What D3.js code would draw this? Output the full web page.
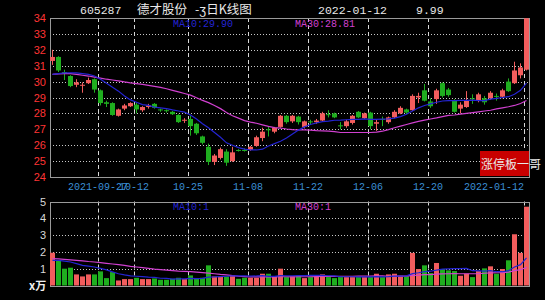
<!DOCTYPE html>
<html><head><meta charset="utf-8">
<script src="https://cdn.jsdelivr.net/npm/d3@7/dist/d3.min.js"></script>
<style>html,body{margin:0;padding:0;background:#000;}svg{display:block;}</style>
</head><body>
<svg id="c" width="545" height="300"></svg>
<script>
const dates = ["2021-09-13","2021-09-14","2021-09-15","2021-09-16","2021-09-17","2021-09-22","2021-09-23","2021-09-24","2021-09-27","2021-09-28",
"2021-09-29","2021-09-30","2021-10-08","2021-10-11","2021-10-12","2021-10-13","2021-10-14","2021-10-15","2021-10-18","2021-10-19",
"2021-10-20","2021-10-21","2021-10-22","2021-10-25","2021-10-26","2021-10-27","2021-10-28","2021-10-29","2021-11-01","2021-11-02",
"2021-11-03","2021-11-04","2021-11-05","2021-11-08","2021-11-09","2021-11-10","2021-11-11","2021-11-12","2021-11-15","2021-11-16",
"2021-11-17","2021-11-18","2021-11-19","2021-11-22","2021-11-23","2021-11-24","2021-11-25","2021-11-26","2021-11-29","2021-11-30",
"2021-12-01","2021-12-02","2021-12-03","2021-12-06","2021-12-07","2021-12-08","2021-12-09","2021-12-10","2021-12-13","2021-12-14",
"2021-12-15","2021-12-16","2021-12-17","2021-12-20","2021-12-21","2021-12-22","2021-12-23","2021-12-24","2021-12-27","2021-12-28",
"2021-12-29","2021-12-30","2021-12-31","2022-01-04","2022-01-05","2022-01-06","2022-01-07","2022-01-10","2022-01-11","2022-01-12"];

const open = [31.3,31.55,30.6,30.35,29.8,29.75,29.9,30.15,29.45,28.7,
28.65,27.85,28.3,28.45,28.55,28.2,28.4,28.6,28.25,28.2,
28.1,27.9,27.55,27.65,27.35,26.55,25.9,24.95,25.2,25.6,
25.0,25.7,25.7,25.7,25.95,26.45,27.0,26.85,27.15,27.85,
27.5,27.8,27.15,27.5,27.45,27.55,27.95,28.0,27.25,27.2,
27.4,28.1,27.7,28.05,27.35,27.65,27.45,27.75,28.0,28.25,
28.2,29.0,29.45,28.75,28.9,29.9,29.5,28.8,28.3,28.4,
28.95,28.8,28.95,28.95,29.1,29.05,30.0,29.9,30.4,30.75];
const high = [32.0,31.6,30.75,30.4,30.15,29.95,30.25,30.2,29.5,28.8,
28.7,28.3,28.6,28.7,28.65,28.45,28.6,28.65,28.3,28.25,
28.15,27.95,27.7,27.85,27.4,26.6,26.1,25.45,25.85,25.75,
25.9,25.75,25.8,25.95,26.6,27.1,27.15,27.15,27.9,27.9,
27.9,27.85,27.55,27.6,27.65,28.1,28.2,28.05,27.45,27.6,
27.9,28.15,28.05,28.1,27.6,27.8,27.8,28.2,28.45,28.3,
29.2,29.3,29.85,28.95,29.55,29.95,29.6,28.9,28.7,29.4,
29.2,29.3,29.1,29.4,29.25,29.55,30.2,31.25,31.15,33.98];
const low = [31.05,30.6,30.1,29.65,29.65,29.3,29.85,29.3,28.5,28.4,
27.85,27.8,28.2,28.4,28.0,28.1,28.3,28.3,28.1,28.05,
27.9,27.4,27.4,26.6,26.65,26.05,24.75,24.75,25.1,24.7,
24.95,25.6,25.6,25.65,25.9,26.25,26.55,26.75,27.1,27.35,
27.4,27.3,27.05,27.3,27.35,27.5,27.75,27.7,27.0,27.1,
27.3,27.7,27.65,27.0,26.9,27.2,27.35,27.7,27.95,27.95,
28.15,28.65,28.75,28.35,28.6,29.0,29.05,28.05,28.0,28.35,
28.6,28.7,28.55,28.85,28.8,28.95,29.35,29.85,30.2,30.7];
const close = [31.55,30.7,30.5,29.72,29.95,29.8,30.1,29.5,28.65,28.6,
27.9,28.25,28.5,28.65,28.25,28.4,28.5,28.35,28.2,28.15,
27.95,27.45,27.6,27.2,26.75,26.15,24.95,25.35,25.75,24.9,
25.55,25.65,25.65,25.9,26.5,26.85,26.95,27.1,27.85,27.45,
27.85,27.45,27.5,27.45,27.55,28.0,27.9,27.75,27.2,27.5,
27.85,27.75,28.0,27.2,27.45,27.6,27.75,28.1,28.35,28.05,
29.1,29.1,28.8,28.45,29.45,29.1,29.15,28.1,28.55,28.8,
28.9,29.2,28.7,29.3,29.05,29.45,29.4,30.7,30.89,33.98];
const volume = [1.95,1.46,1.0,1.06,0.66,0.54,0.66,0.66,0.84,0.44,
0.8,0.3,0.38,0.38,0.46,0.38,0.38,0.42,0.34,0.34,
0.4,0.46,0.38,0.6,0.4,0.46,1.2,0.54,0.54,0.54,
0.6,0.4,0.46,0.46,0.46,0.7,0.7,0.54,1.0,0.5,
0.54,0.58,0.44,0.5,0.54,0.66,0.5,0.44,0.5,0.5,
0.5,0.5,0.5,0.5,0.7,0.5,0.66,0.7,0.58,0.54,
1.94,0.98,1.2,0.74,1.34,0.98,0.9,0.86,0.58,0.7,
0.5,0.86,1.02,1.14,0.7,0.98,1.5,3.05,1.94,4.69];
const ma10 = [30.45,30.5,30.55,30.55,30.55,30.5,30.45,30.35,30.15,29.9,
29.65,29.4,29.1,28.85,28.7,28.55,28.5,28.4,28.35,28.3,
28.22,28.15,28.08,27.9,27.65,27.35,27.1,26.8,26.5,26.15,
26.0,25.85,25.75,25.7,25.7,25.75,25.95,26.1,26.25,26.45,
26.7,26.95,27.15,27.3,27.4,27.48,27.52,27.57,27.58,27.6,
27.62,27.63,27.65,27.63,27.62,27.64,27.66,27.7,27.8,27.95,
28.15,28.35,28.5,28.6,28.7,28.78,28.8,28.8,28.82,28.82,
28.83,28.8,28.8,28.9,28.95,29.0,29.05,29.2,29.45,29.9];
const ma30 = [30.45,30.48,30.5,30.5,30.45,30.4,30.35,30.28,30.22,30.15,
30.1,30.05,29.98,29.92,29.87,29.82,29.76,29.7,29.64,29.55,
29.45,29.35,29.25,29.15,28.98,28.82,28.68,28.5,28.3,28.05,
27.85,27.7,27.55,27.45,27.38,27.28,27.18,27.1,27.08,27.02,
26.98,26.97,26.96,26.95,26.92,26.9,26.88,26.85,26.8,26.8,
26.8,26.8,26.8,26.8,26.82,26.88,26.98,27.1,27.2,27.3,
27.4,27.5,27.58,27.65,27.72,27.8,27.88,27.9,27.95,28.0,
28.05,28.1,28.15,28.2,28.28,28.35,28.42,28.5,28.62,28.81];
const vma10 = [1.5,1.5,1.45,1.4,1.3,1.2,1.15,1.1,1.02,0.93,
0.81,0.7,0.63,0.57,0.55,0.53,0.5,0.48,0.43,0.42,
0.38,0.39,0.39,0.42,0.41,0.42,0.5,0.51,0.53,0.55,
0.57,0.57,0.57,0.56,0.57,0.59,0.54,0.54,0.59,0.58,
0.58,0.59,0.59,0.6,0.6,0.6,0.58,0.57,0.52,0.52,
0.52,0.51,0.51,0.51,0.53,0.51,0.53,0.56,0.56,0.57,
0.71,0.76,0.83,0.85,0.92,0.97,0.99,1.01,1.01,1.02,
0.88,0.87,0.85,0.89,0.82,0.82,0.88,1.1,1.24,1.64];
const vma30 = [1.6,1.58,1.56,1.53,1.5,1.47,1.43,1.4,1.36,1.32,
1.28,1.24,1.2,1.14,1.1,1.06,1.02,0.98,0.95,0.92,
0.89,0.86,0.84,0.82,0.8,0.77,0.74,0.7,0.66,0.63,
0.59,0.55,0.53,0.51,0.51,0.51,0.51,0.51,0.52,0.52,
0.51,0.52,0.52,0.52,0.53,0.54,0.54,0.54,0.55,0.55,
0.55,0.56,0.56,0.56,0.57,0.57,0.55,0.56,0.56,0.56,
0.6,0.62,0.65,0.65,0.68,0.69,0.7,0.71,0.7,0.7,
0.7,0.71,0.73,0.75,0.76,0.77,0.8,0.89,0.94,1.08];

const tickDates = ["2021-09-27","2021-10-12","2021-10-25","2021-11-08","2021-11-22","2021-12-06","2021-12-20","2022-01-12"];
const tickLabels = ["2021-09-27","10-12","10-25","11-08","11-22","12-06","12-20","2022-01-12"];
const priceTicks = [24,25,26,27,28,29,30,31,32,33,34];
const volTicks = [1,2,3,4,5];

const RED = "#f25d5d", GREEN = "#1fae1f", BLUE = "#2424d2", MAG = "#d040d0";
const svg = d3.select("#c");
svg.append("rect").attr("width",545).attr("height",300).attr("fill","#000");

const L = 50, R = 529.5;
const x = d3.scaleBand().domain(dates).range([50, 530]).padding(0);
const yP = d3.scaleLinear().domain([24, 34]).range([177, 18]);
const yV = d3.scaleLinear().domain([0, 5]).range([285.5, 201.5]);
const cx = d => x(d) + 2.5;

const data = dates.map((d, i) => ({d, o: open[i], h: high[i], l: low[i], c: close[i], v: volume[i],
  ma10: ma10[i], ma30: ma30[i], vma10: vma10[i], vma30: vma30[i]}));

// grids
const g = svg.append("g");
g.selectAll(".pg").data(priceTicks.slice(1, -1)).enter().append("line")
  .attr("x1", L).attr("x2", R).attr("y1", d => Math.round(yP(d)) + 0.5).attr("y2", d => Math.round(yP(d)) + 0.5)
  .attr("stroke", "#c8c8c8").attr("stroke-dasharray", "1,2");
g.selectAll(".vg").data(volTicks.slice(0, -1)).enter().append("line")
  .attr("x1", L).attr("x2", R).attr("y1", d => Math.round(yV(d)) + 0.5).attr("y2", d => Math.round(yV(d)) + 0.5)
  .attr("stroke", "#c8c8c8").attr("stroke-dasharray", "1,2");
tickDates.forEach(td => {
  const xx = Math.round(x(td)) + 0.5;
  [[yP(34), yP(24)], [yV(5), yV(0)]].forEach(([a, b]) => {
    g.append("line").attr("x1", xx).attr("x2", xx).attr("y1", a).attr("y2", b)
      .attr("stroke", "#d8d8d8").attr("stroke-dasharray", "4,3");
  });
});

// frames
svg.append("rect").attr("x", L + 0.5).attr("y", Math.round(yP(34)) + 0.5).attr("width", R - L - 0.5)
  .attr("height", Math.round(yP(24)) - Math.round(yP(34))).attr("fill", "none").attr("stroke", "#9a9a9a");
svg.append("rect").attr("x", L + 0.5).attr("y", Math.round(yV(5)) + 0.5).attr("width", R - L - 0.5)
  .attr("height", Math.round(yV(0)) - Math.round(yV(5))).attr("fill", "none").attr("stroke", "#9a9a9a");

// axes
const ax1 = svg.append("g").attr("transform", `translate(${L},0)`)
  .call(d3.axisLeft(yP).tickValues(priceTicks).tickSize(0).tickPadding(4).tickFormat(d3.format("d")));
ax1.select(".domain").remove();
ax1.selectAll("text").attr("fill", "#ff3434").style("font", "11px 'Liberation Sans', Arial, sans-serif");
const ax2 = svg.append("g").attr("transform", `translate(${L},0)`)
  .call(d3.axisLeft(yV).tickValues(volTicks).tickSize(0).tickPadding(4).tickFormat(d3.format("d")));
ax2.select(".domain").remove();
ax2.selectAll("text").attr("fill", "#d8d8d8").style("font", "11px 'Liberation Sans', Arial, sans-serif");
svg.append("text").attr("x", 29).attr("y", 290).text("x万").attr("fill", "#f0f0f0")
  .style("font", "bold 11px 'Noto Sans CJK SC', serif");

const ax3 = svg.append("g").attr("transform", `translate(0,${yP(24)})`)
  .call(d3.axisBottom(x).tickValues(tickDates).tickSize(0).tickPadding(6)
    .tickFormat((d, i) => tickLabels[i]));
ax3.select(".domain").remove();
ax3.selectAll(".tick").attr("transform", d => `translate(${x(d)},0)`);
ax3.selectAll("text").attr("fill", "#3b8fd6").style("font", "10px 'Liberation Mono', monospace")
  .attr("text-anchor", (d, i) => i === tickDates.length - 1 ? "end" : "middle");

// volume bars
svg.append("g").selectAll("rect").data(data).enter().append("rect")
  .attr("x", d => x(d.d)).attr("width", 5)
  .attr("y", d => yV(d.v)).attr("height", d => yV(0) - yV(d.v))
  .attr("fill", d => d.c >= d.o ? RED : GREEN);

// candles
const cg = svg.append("g");
cg.selectAll("line").data(data).enter().append("line")
  .attr("x1", d => cx(d.d)).attr("x2", d => cx(d.d))
  .attr("y1", d => yP(d.h)).attr("y2", d => yP(d.l))
  .attr("stroke", d => d.c >= d.o ? RED : GREEN);
cg.selectAll("rect").data(data).enter().append("rect")
  .attr("x", d => x(d.d)).attr("width", 5)
  .attr("y", d => yP(Math.max(d.o, d.c)))
  .attr("height", d => Math.max(1, Math.abs(yP(d.o) - yP(d.c))))
  .attr("fill", d => d.c >= d.o ? RED : GREEN);

// MA lines
const lineP = k => d3.line().x(d => cx(d.d)).y(d => yP(d[k]));
const lineV = k => d3.line().x(d => cx(d.d)).y(d => yV(d[k]));
svg.append("path").datum(data).attr("d", lineP("ma30")).attr("fill", "none").attr("stroke", MAG).attr("stroke-width", 1.2);
svg.append("path").datum(data).attr("d", lineP("ma10")).attr("fill", "none").attr("stroke", BLUE).attr("stroke-width", 1.2);
svg.append("path").datum(data).attr("d", lineV("vma30")).attr("fill", "none").attr("stroke", MAG).attr("stroke-width", 1.2);
svg.append("path").datum(data).attr("d", lineV("vma10")).attr("fill", "none").attr("stroke", BLUE).attr("stroke-width", 1.2);

// labels
const mono = "'Liberation Mono', 'DejaVu Sans Mono', monospace";
svg.append("text").attr("x", 173).attr("y", 27).text("MA10:" + ma10[ma10.length - 1].toFixed(2))
  .attr("fill", BLUE).style("font", `10px ${mono}`);
svg.append("text").attr("x", 295).attr("y", 27).text("MA30:" + ma30[ma30.length - 1].toFixed(2))
  .attr("fill", MAG).style("font", `10px ${mono}`);
svg.append("text").attr("x", 173).attr("y", 210).text("MA10:1").attr("fill", BLUE).style("font", `10px ${mono}`);
svg.append("text").attr("x", 295).attr("y", 210).text("MA30:1").attr("fill", MAG).style("font", `10px ${mono}`);

// title
const tf = "#e8e8e8";
svg.append("text").attr("x", 80).attr("y", 14).text("605287").attr("fill", tf).style("font", `11.5px ${mono}`);
svg.append("text").attr("x", 137).attr("y", 14).text("德才股份").attr("fill", tf).style("font", "12.5px 'Noto Sans CJK SC', sans-serif");
svg.append("text").attr("x", 195).attr("y", 14).text("-ʒ日K线图").attr("fill", tf).style("font", "12.5px 'Noto Sans CJK SC', sans-serif");
svg.append("text").attr("x", 318).attr("y", 14).text("2022-01-12").attr("fill", tf).style("font", `11.5px ${mono}`);
svg.append("text").attr("x", 416).attr("y", 14).text("9.99").attr("fill", tf).style("font", `11.5px ${mono}`);

// watermark box
svg.append("rect").attr("x", 480).attr("y", 151).attr("width", 49).attr("height", 25).attr("fill", "#c80000");
svg.append("text").attr("x", 481).attr("y", 169).text("涨停板一哥").attr("fill", "#e8e8e8")
  .style("font", "12px 'Noto Sans CJK SC', sans-serif");
</script>
</body></html>
